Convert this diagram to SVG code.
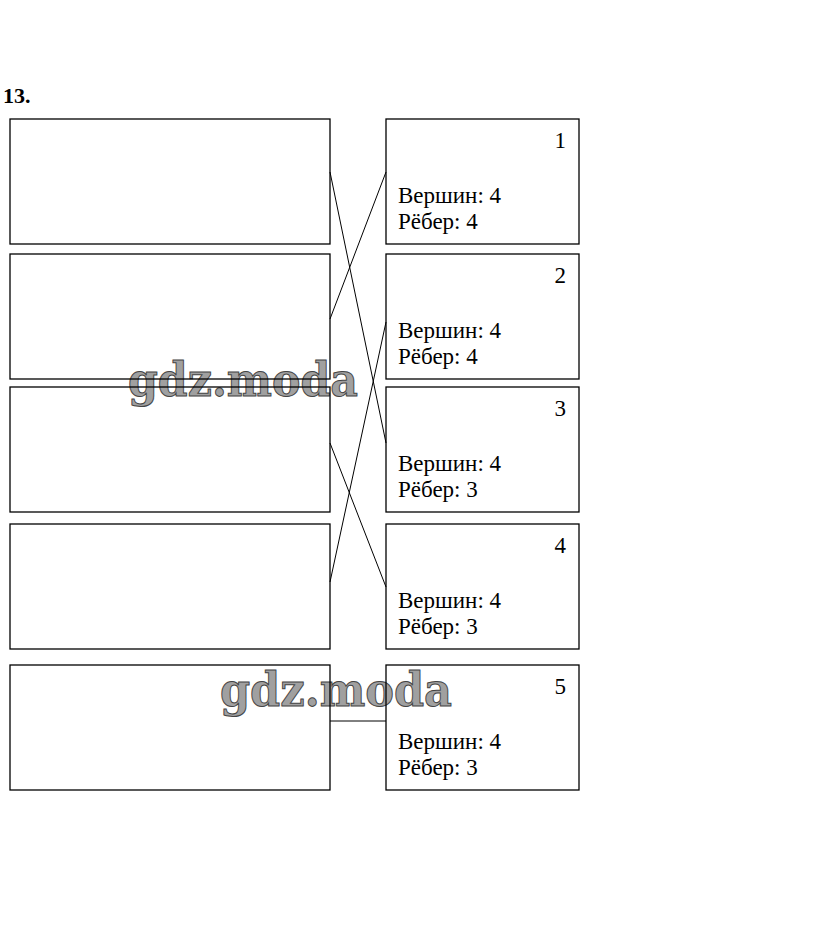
<svg xmlns="http://www.w3.org/2000/svg" width="823" height="935" viewBox="0 0 823 935">
<style>
.box{fill:none;stroke:#000;stroke-width:1.3}
.conn line{stroke:#000;stroke-width:1}
.t{font-family:"Liberation Serif","Times New Roman",serif;font-size:23px;fill:#000}
.wm{font-family:"DejaVu Serif",serif;font-weight:bold;font-size:46px;fill:#a0a0a0;stroke:#444;stroke-width:1}
</style>
<rect width="823" height="935" fill="#fff"/>
<text x="3" y="103" style="font-family:'Liberation Serif',serif;font-weight:bold;font-size:22px">13.</text>
<g id="watermarks">
<text class="wm" x="128" y="396" textLength="230" lengthAdjust="spacingAndGlyphs">gdz.moda</text>
<text class="wm" x="220" y="706" textLength="232" lengthAdjust="spacingAndGlyphs">gdz.moda</text>
</g>
<g id="left1"><rect class="box" x="10" y="119" width="320" height="125"/></g>
<g id="left2"><rect class="box" x="10" y="254" width="320" height="125"/></g>
<g id="left3"><rect class="box" x="10" y="387" width="320" height="125"/></g>
<g id="left4"><rect class="box" x="10" y="524" width="320" height="125"/></g>
<g id="left5"><rect class="box" x="10" y="665" width="320" height="125"/></g>
<g id="right1"><rect class="box" x="386" y="119" width="193" height="125"/>
<text class="t" x="566" y="148" text-anchor="end">1</text>
<text class="t" x="398" y="203">Вершин: 4</text>
<text class="t" x="398" y="229">Рёбер: 4</text></g>
<g id="right2"><rect class="box" x="386" y="254" width="193" height="125"/>
<text class="t" x="566" y="283" text-anchor="end">2</text>
<text class="t" x="398" y="338">Вершин: 4</text>
<text class="t" x="398" y="364">Рёбер: 4</text></g>
<g id="right3"><rect class="box" x="386" y="387" width="193" height="125"/>
<text class="t" x="566" y="416" text-anchor="end">3</text>
<text class="t" x="398" y="471">Вершин: 4</text>
<text class="t" x="398" y="497">Рёбер: 3</text></g>
<g id="right4"><rect class="box" x="386" y="524" width="193" height="125"/>
<text class="t" x="566" y="553" text-anchor="end">4</text>
<text class="t" x="398" y="608">Вершин: 4</text>
<text class="t" x="398" y="634">Рёбер: 3</text></g>
<g id="right5"><rect class="box" x="386" y="665" width="193" height="125"/>
<text class="t" x="566" y="694" text-anchor="end">5</text>
<text class="t" x="398" y="749">Вершин: 4</text>
<text class="t" x="398" y="775">Рёбер: 3</text></g>
<g id="connectors" class="conn">
<line x1="330" y1="172" x2="386" y2="443"/>
<line x1="330" y1="319" x2="386" y2="172"/>
<line x1="330" y1="443" x2="386" y2="587"/>
<line x1="330" y1="582" x2="386" y2="322"/>
<line x1="330" y1="721" x2="386" y2="721"/>
</g>
</svg>
